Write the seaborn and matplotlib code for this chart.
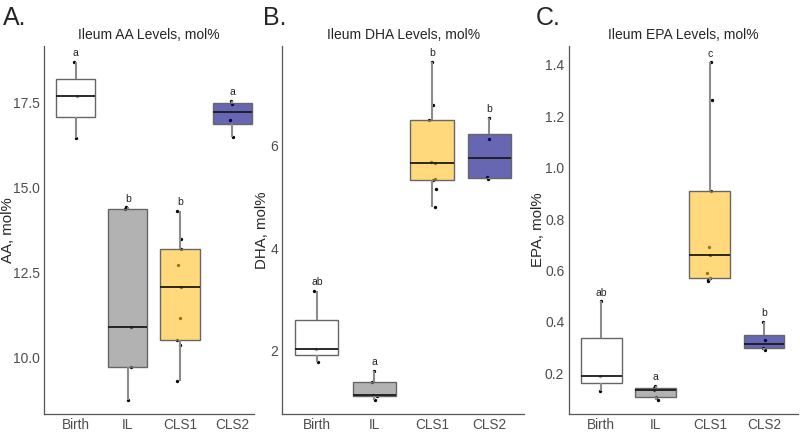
import numpy as np
import pandas as pd
import seaborn as sns
import matplotlib.pyplot as plt

groups = ["Birth", "IL", "CLS1", "CLS2"]
fills = ["#FFFFFF", "#7F7F7F", "#FFC125", "#000080"]

# Ileum AA, mol%
aa_birth = [16.45, 17.68, 18.68]
aa_il = [8.73, 9.71, 10.90, 14.35, 14.41]
aa_cls1 = [9.30, 10.37, 10.50, 11.14, 12.06, 12.71, 13.18, 13.47, 14.30]
aa_cls2 = [16.46, 16.97, 17.43, 17.54]
aa_letters = ["a", "b", "b", "a"]

# Ileum DHA, mol%
dha_birth = [1.77, 2.03, 3.16]
dha_il = [1.03, 1.11, 1.13, 1.37, 1.60]
dha_cls1 = [4.80, 5.15, 5.34, 5.36, 5.66, 5.68, 6.51, 6.80, 7.65]
dha_cls2 = [5.35, 5.39, 6.13, 6.55]
dha_letters = ["ab", "a", "b", "b"]

# Ileum EPA, mol%
epa_birth = [0.131, 0.191, 0.481]
epa_il = [0.098, 0.107, 0.134, 0.144, 0.152]
epa_cls1 = [0.560, 0.565, 0.570, 0.590, 0.660, 0.690, 0.910, 1.263, 1.410]
epa_cls2 = [0.290, 0.300, 0.330, 0.400]
epa_letters = ["ab", "a", "c", "b"]


def draw_panel(ax, values, letters, title, ylabel, yticks, fmt, ylim, xlim, label_x):
	rows = []
	for g, vals in zip(groups, values):
		for v in vals:
			rows.append((g, v))
	df = pd.DataFrame(rows, columns=["Group", "Value"])
	sns.stripplot(data=df, x="Group", y="Value", order=groups, color="black",
				  size=2.4, jitter=0.07, ax=ax, zorder=1)
	sns.boxplot(data=df, x="Group", y="Value", order=groups, hue="Group",
				hue_order=groups, palette=fills, saturation=1, width=0.75,
				showfliers=False, showcaps=False, linecolor="#666666", linewidth=1.0,
				whiskerprops=dict(color="#8c8c8c", linewidth=1.5),
				medianprops=dict(color="#1a1a1a", linewidth=1.3),
				legend=False, ax=ax)
	for p in ax.patches:
		fc = p.get_facecolor()
		p.set_facecolor((fc[0], fc[1], fc[2], 0.6))
		p.set_zorder(2)
	for i, (vals, lab) in enumerate(zip(values, letters)):
		ax.annotate(lab, xy=(i, max(vals)), xytext=(0, 2.5), textcoords="offset points",
					ha="center", va="bottom", fontsize=7.5, color="#222222")
	ax.set_title(title, fontsize=10, pad=5)
	ax.set_ylabel(ylabel, fontsize=10.8)
	ax.yaxis.set_label_coords(label_x, 0.5)
	ax.set_xlabel("")
	ax.set_yticks(yticks)
	ax.set_yticklabels([fmt.format(t) for t in yticks])
	ax.set_ylim(*ylim)
	ax.set_xlim(*xlim)
	ax.tick_params(axis="both", length=2.2, width=0.8, color="#555555",
				   labelcolor="#4D4D4D", pad=1)
	ax.tick_params(axis="y", labelsize=10)
	ax.tick_params(axis="x", labelsize=9.8)
	for s in ["left", "bottom"]:
		ax.spines[s].set_color("#555555")
		ax.spines[s].set_linewidth(0.9)
	sns.despine(ax=ax)


sns.set_theme(style="white")
plt.rcParams["font.family"] = ["Liberation Sans", "DejaVu Sans"]

np.random.seed(3)
fig = plt.figure(figsize=(8, 4.32), dpi=100)
ax1 = fig.add_axes([0.0556, 0.0417, 0.262, 0.852])
ax2 = fig.add_axes([0.353, 0.0417, 0.302, 0.852])
ax3 = fig.add_axes([0.711, 0.0417, 0.286, 0.852])

draw_panel(ax1, [aa_birth, aa_il, aa_cls1, aa_cls2], aa_letters,
		   "Ileum AA Levels, mol%", "AA, mol%", [10.0, 12.5, 15.0, 17.5], "{:.1f}",
		   (8.33, 19.15), (-0.6, 3.42), -0.142)
draw_panel(ax2, [dha_birth, dha_il, dha_cls1, dha_cls2], dha_letters,
		   "Ileum DHA Levels, mol%", "DHA, mol%", [2, 4, 6], "{:d}",
		   (0.75, 7.96), (-0.6, 3.6), -0.055)
draw_panel(ax3, [epa_birth, epa_il, epa_cls1, epa_cls2], epa_letters,
		   "Ileum EPA Levels, mol%", "EPA, mol%", [0.2, 0.4, 0.6, 0.8, 1.0, 1.2, 1.4], "{:.1f}",
		   (0.042, 1.474), (-0.6, 3.62), -0.105)

fig.text(0.004, 0.942, "A.", fontsize=18, va="baseline")
fig.text(0.329, 0.942, "B.", fontsize=18, va="baseline")
fig.text(0.670, 0.942, "C.", fontsize=18, va="baseline")

fig.savefig("out.png", dpi=100)
